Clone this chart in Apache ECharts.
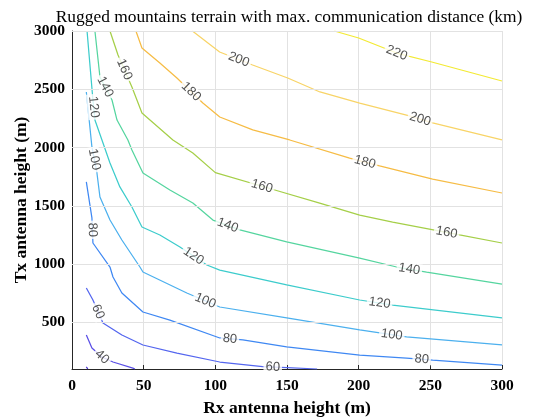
<!DOCTYPE html>
<html>
<head>
<meta charset="utf-8">
<script src="https://cdn.jsdelivr.net/npm/echarts@6/dist/echarts.min.js"></script>
<style>
  html, body { margin: 0; padding: 0; background: #fff; }
  #chart { width: 533px; height: 417px; }
</style>
</head>
<body>
<div id="chart"></div>
<script>
// Max. communication distance (km) contours over Rx / Tx antenna heights.
// Each path is a list of [Rx height (m), Tx height (m)] points along one level.
const levels = [20, 40, 60, 80, 100, 120, 140, 160, 180, 200, 220];

const path20 = [[10, 118], [11, 100]];
const path40 = [[10, 392], [13.9, 280], [20.9, 203], [28.6, 160], [42.5, 108], [43.9, 100]];
const path60 = [[10, 795], [14.6, 692], [21.6, 495], [34.8, 392], [49.5, 306], [73.2, 237],
                [103.1, 160], [133, 120], [150, 112], [171, 100]];
const path80 = [[10, 1705], [13.9, 1396], [14.6, 1181], [26.5, 975], [28.6, 889], [34.8, 752],
                [49.5, 589], [68.3, 520], [103.1, 366], [119.2, 349], [149.8, 289], [200.7, 220],
                [233.4, 194], [251.6, 177], [300, 134]];
const path100 = [[10, 2477], [13.9, 2005], [17.4, 1782], [19.5, 1576], [26.5, 1378], [34.8, 1207],
                 [47.4, 975], [49.5, 932], [80.1, 752], [103.1, 632], [149.8, 538], [200.7, 435],
                 [233.4, 375], [300, 306]];
const path120 = [[10.5, 3000], [14.6, 2408], [16, 2236], [20.9, 2065], [26.5, 1867], [33.4, 1662],
                 [41.8, 1490], [48.8, 1318], [61.3, 1250], [75.3, 1147], [94.1, 992], [103.1, 949],
                 [149.8, 821], [200.7, 692], [223.7, 649], [300, 538]];
const path140 = [[16, 3000], [19.5, 2605], [27.9, 2408], [31.4, 2236], [39, 2065], [41.8, 1979],
                 [49.5, 1782], [68.3, 1636], [84.3, 1524], [98.3, 1378], [117.1, 1293], [149.8, 1190],
                 [200.7, 1052], [226.5, 975], [247.4, 932], [300, 829]];
const path160 = [[26.5, 3000], [32.1, 2794], [41.8, 2520], [48.8, 2296], [70.4, 2065], [84.3, 1953],
                 [100, 1785], [141.5, 1636], [172.8, 1524], [200.7, 1421], [223.7, 1361],
                 [270.4, 1250], [300, 1181]];
const path180 = [[44.6, 3000], [48.8, 2854], [61.3, 2725], [73.2, 2597], [91.3, 2382], [103.1, 2262],
                 [126.1, 2151], [151.9, 2065], [193.7, 1910], [214.6, 1842], [251.6, 1730], [300, 1610]];
const path200 = [[84, 3000], [103, 2820], [126, 2708], [150.5, 2597], [173, 2477], [200.7, 2382],
                 [233.4, 2279], [251.6, 2211], [300, 2065]];
const path220 = [[183, 3000], [200, 2940], [226.5, 2811], [251, 2734], [300, 2571]];

// Inline level labels: [level, Rx (m), Tx (m)]
const labelSpots = [
  [220, 226.5, 2811],
  [200, 115.7, 2734], [200, 242.5, 2228],
  [180, 82.2, 2468], [180, 204.2, 1867],
  [160, 35.5, 2665], [160, 132.4, 1662], [160, 261.3, 1267],
  [140, 21.6, 2511], [140, 108.0, 1310], [140, 235.5, 967],
  [120, 14.6, 2348], [120, 84.3, 1061], [120, 214.6, 666],
  [100, 13.9, 1893], [100, 92.7, 675], [100, 223.0, 383],
  [80, 12.5, 1293], [80, 110.1, 349], [80, 243.9, 177],
  [60, 16.0, 580], [60, 140.1, 117],
  [40, 20.9, 203]
];

const xTicks = [0, 50, 100, 150, 200, 250, 300];
const yTicks = [500, 1000, 1500, 2000, 2500, 3000];

const paths = {20: path20, 40: path40, 60: path60, 80: path80, 100: path100, 120: path120,
               140: path140, 160: path160, 180: path180, 200: path200, 220: path220};

// parula-like line colours per level
const levelColors = {
  20: '#4630cf', 40: '#5a4fe6', 60: '#5466ef', 80: '#3f88f3', 100: '#4cb0ee', 120: '#3dcccc',
  140: '#55d59f', 160: '#a5cf48', 180: '#f6bc45', 200: '#f8d467', 220: '#f3ea33'
};

const gridColor = '#e2e2e2';
const axisColor = '#262626';
const serif = 'Liberation Serif, Times New Roman, serif';
const sans = 'Liberation Sans, Arial, Helvetica, sans-serif';

const chart = echarts.init(document.getElementById('chart'), null, {renderer: 'canvas'});

const contourSeries = levels.map(lv => ({
  type: 'line',
  name: String(lv),
  data: paths[lv],
  symbol: 'none',
  showSymbol: false,
  silent: true,
  z: 3,
  lineStyle: {color: levelColors[lv], width: 1.25}
}));

const gridSeries = {
  type: 'line',
  data: [],
  silent: true,
  z: 1,
  markLine: {
    silent: true,
    symbol: 'none',
    label: {show: false},
    animation: false,
    lineStyle: {color: gridColor, width: 1, type: 'solid'},
    data: yTicks.map(v => ({yAxis: v}))
  }
};

chart.setOption({
  animation: false,
  backgroundColor: '#fff',
  title: {
    text: 'Rugged mountains terrain with max. communication distance (km)',
    left: 284, top: 4, textAlign: 'center',
    textStyle: {fontFamily: serif, fontWeight: 'normal', fontSize: 17.4, color: '#000'}
  },
  grid: {left: 72, right: 31, top: 31, bottom: 48, containLabel: false, outerBoundsMode: 'none'},
  xAxis: {
    type: 'value', min: 0, max: 300, interval: 50,
    name: 'Rx antenna height (m)', nameLocation: 'middle', nameGap: 30, nameMoveOverlap: false,
    nameTextStyle: {fontFamily: serif, fontWeight: 'bold', fontSize: 17.5, color: '#000'},
    axisLine: {show: true, onZero: false, lineStyle: {color: axisColor, width: 1}},
    axisTick: {show: true, inside: true, length: 4, lineStyle: {color: axisColor}},
    axisLabel: {fontFamily: serif, fontWeight: 'bold', fontSize: 15.5, color: '#000', margin: 9},
    splitLine: {show: true, lineStyle: {color: gridColor, width: 1}}
  },
  yAxis: {
    type: 'value', min: 100, max: 3000,
    name: 'Tx antenna height (m)', nameLocation: 'middle', nameGap: 42, nameRotate: 90,
    nameMoveOverlap: false,
    nameTextStyle: {fontFamily: serif, fontWeight: 'bold', fontSize: 17.5, color: '#000'},
    axisLine: {show: true, onZero: false, lineStyle: {color: axisColor, width: 1}},
    axisTick: {show: true, inside: true, length: 4, customValues: yTicks, lineStyle: {color: axisColor}},
    axisLabel: {
      customValues: yTicks, formatter: v => String(v),
      fontFamily: serif, fontWeight: 'bold', fontSize: 15.5, color: '#000', margin: 7
    },
    splitLine: {show: false}
  },
  series: [gridSeries].concat(contourSeries)
});

// Place each level label on its contour, rotated along the local line direction.
function placeLabel(level, x, y) {
  const pts = paths[level].map(p => chart.convertToPixel({gridIndex: 0}, p));
  const q = chart.convertToPixel({gridIndex: 0}, [x, y]);
  let best = null;
  for (let i = 0; i < pts.length - 1; i++) {
    const a = pts[i], b = pts[i + 1];
    const dx = b[0] - a[0], dy = b[1] - a[1];
    const len2 = dx * dx + dy * dy || 1;
    let t = ((q[0] - a[0]) * dx + (q[1] - a[1]) * dy) / len2;
    t = Math.max(0, Math.min(1, t));
    const px = a[0] + t * dx, py = a[1] + t * dy;
    const d = (px - q[0]) ** 2 + (py - q[1]) ** 2;
    if (!best || d < best.d) best = {d, px, py, dx, dy};
  }
  let ang = Math.atan2(-best.dy, best.dx) * 180 / Math.PI;
  if (ang > 90) ang -= 180;
  if (ang < -90) ang += 180;
  const pos = chart.convertFromPixel({gridIndex: 0}, [best.px, best.py]);
  return {value: [pos[0], pos[1], level], label: {rotate: ang}};
}

const labelData = labelSpots.map(s => placeLabel(s[0], s[1], s[2]));

chart.setOption({
  series: [gridSeries].concat(contourSeries, [{
    type: 'scatter',
    data: labelData,
    symbolSize: 0,
    silent: true,
    z: 6,
    label: {
      show: true,
      position: 'inside',
      formatter: p => String(p.value[2]),
      fontFamily: sans, fontSize: 13, color: '#262626',
      backgroundColor: '#fff', padding: [0, 2]
    }
  }])
});
</script>
</body>
</html>
